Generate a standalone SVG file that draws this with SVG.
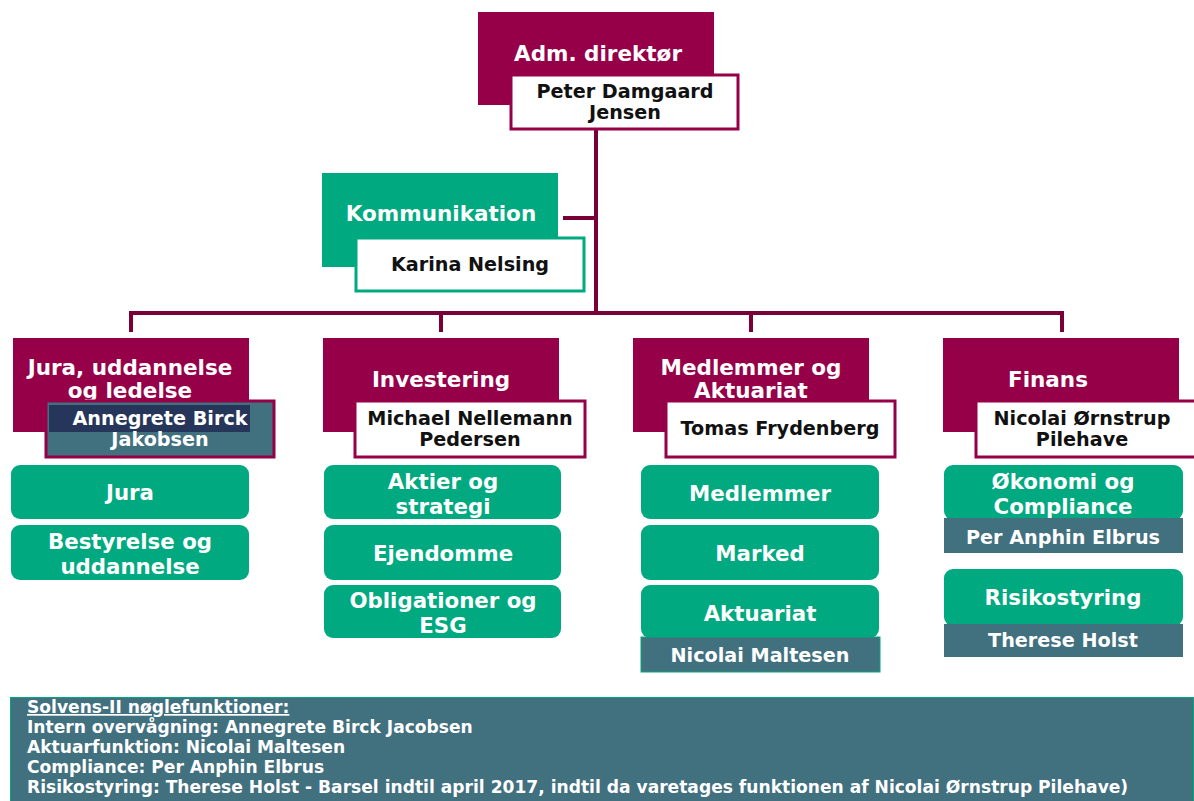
<svg xmlns="http://www.w3.org/2000/svg" width="1194" height="801" viewBox="0 0 1194 801">
<style>
text{font-family:"DejaVu Sans",Verdana,sans-serif;font-weight:bold;text-anchor:middle}
.h{fill:#ffffff;font-size:21.5px}
.n{fill:#111111;font-size:19.2px}
.w{fill:#ffffff;font-size:19.2px}
.g{fill:#ffffff;font-size:21.3px}
.mar{fill:#960048}
.grn{fill:#00a97f}
.teal{fill:#41707f}
.wb{fill:#ffffff;stroke:#960048;stroke-width:3}
.wg{fill:#ffffff;stroke:#00a97f;stroke-width:3}
.conn{stroke:#7a0038;stroke-width:4;fill:none}
.foot{fill:#ffffff;font-size:17.1px;text-anchor:start}
</style>
<rect width="1194" height="801" fill="#ffffff"/>
<g id="connectors">
<path class="conn" d="M596 130V313M563 218H596M131 332V313H1062V332M441 313V332M751 313V332"/>
</g>
<g id="ceo">
<rect class="mar" x="478" y="12" width="236" height="93"/>
<text class="h" x="598" y="61">Adm. direktør</text>
<rect class="wb" x="511" y="75" width="227" height="54"/>
<text class="n" x="625" y="98">Peter Damgaard</text>
<text class="n" x="625" y="119">Jensen</text>
</g>
<g id="kommunikation">
<rect class="grn" x="322" y="173" width="236" height="94"/>
<text class="h" x="441" y="221">Kommunikation</text>
<rect class="wg" x="356" y="238" width="228" height="53"/>
<text class="n" x="470" y="271">Karina Nelsing</text>
</g>
<g id="jura">
<rect class="mar" x="13" y="338" width="236" height="94"/>
<text class="h" x="130" y="375">Jura, uddannelse</text>
<text class="h" x="130" y="398">og ledelse</text>
<rect x="46" y="401" width="228" height="56" fill="#41707f" stroke="#960048" stroke-width="3"/>
<rect x="49" y="405" width="201" height="27" fill="#26355a"/>
<text class="w" x="160" y="425">Annegrete Birck</text>
<text class="w" x="160" y="446">Jakobsen</text>
</g>
<g id="investering">
<rect class="mar" x="323" y="338" width="236" height="94"/>
<text class="h" x="441" y="387">Investering</text>
<rect class="wb" x="355" y="401" width="230" height="56"/>
<text class="n" x="470" y="425">Michael Nellemann</text>
<text class="n" x="470" y="446">Pedersen</text>
</g>
<g id="medlemmer-aktuariat">
<rect class="mar" x="633" y="338" width="236" height="94"/>
<text class="h" x="751" y="375">Medlemmer og</text>
<text class="h" x="751" y="398">Aktuariat</text>
<rect class="wb" x="666" y="401" width="229" height="56"/>
<text class="n" x="780" y="435">Tomas Frydenberg</text>
</g>
<g id="finans">
<rect class="mar" x="943" y="338" width="236" height="94"/>
<text class="h" x="1048" y="387">Finans</text>
<rect class="wb" x="976" y="401" width="230" height="56"/>
<text class="n" x="1082" y="425">Nicolai Ørnstrup</text>
<text class="n" x="1082" y="446">Pilehave</text>
</g>
<g id="jura-sub">
<rect class="grn" x="11" y="465" width="238" height="54" rx="9"/>
<text class="g" x="130" y="500">Jura</text>
<rect class="grn" x="11" y="525" width="238" height="55" rx="9"/>
<text class="g" x="130" y="549">Bestyrelse og</text>
<text class="g" x="130" y="574">uddannelse</text>
</g>
<g id="investering-sub">
<rect class="grn" x="324" y="465" width="237" height="54" rx="9"/>
<text class="g" x="443" y="489">Aktier og</text>
<text class="g" x="443" y="514">strategi</text>
<rect class="grn" x="324" y="525" width="237" height="55" rx="9"/>
<text class="g" x="443" y="561">Ejendomme</text>
<rect class="grn" x="324" y="585" width="237" height="53" rx="9"/>
<text class="g" x="443" y="608">Obligationer og</text>
<text class="g" x="443" y="633">ESG</text>
</g>
<g id="medlemmer-sub">
<rect class="grn" x="641" y="465" width="238" height="54" rx="9"/>
<text class="g" x="760" y="501">Medlemmer</text>
<rect class="grn" x="641" y="525" width="238" height="55" rx="9"/>
<text class="g" x="760" y="561">Marked</text>
<rect class="grn" x="641" y="585" width="238" height="53" rx="9"/>
<text class="g" x="760" y="621">Aktuariat</text>
<rect class="teal" x="641" y="637" width="239" height="35" stroke="#00a97f" stroke-width="1"/>
<text class="w" x="760" y="662">Nicolai Maltesen</text>
</g>
<g id="finans-sub">
<rect class="grn" x="944" y="465" width="239" height="55" rx="9"/>
<text class="g" x="1063" y="489">Økonomi og</text>
<text class="g" x="1063" y="514">Compliance</text>
<rect class="teal" x="944" y="518" width="239" height="35"/>
<text class="w" x="1063" y="544">Per Anphin Elbrus</text>
<rect class="grn" x="944" y="569" width="239" height="57" rx="9"/>
<text class="g" x="1063" y="605">Risikostyring</text>
<rect class="teal" x="944" y="624" width="239" height="33"/>
<text class="w" x="1063" y="647">Therese Holst</text>
</g>
<g id="solvens">
<rect class="teal" x="10.5" y="697.5" width="1183" height="110" stroke="#00a97f" stroke-width="1"/>
<text class="foot" x="27" y="713" text-decoration="underline">Solvens-II nøglefunktioner:</text>
<text class="foot" x="27" y="733">Intern overvågning: Annegrete Birck Jacobsen</text>
<text class="foot" x="27" y="753">Aktuarfunktion: Nicolai Maltesen</text>
<text class="foot" x="27" y="773">Compliance: Per Anphin Elbrus</text>
<text class="foot" x="27" y="793">Risikostyring: Therese Holst - Barsel indtil april 2017, indtil da varetages funktionen af Nicolai Ørnstrup Pilehave)</text>
</g>
</svg>
